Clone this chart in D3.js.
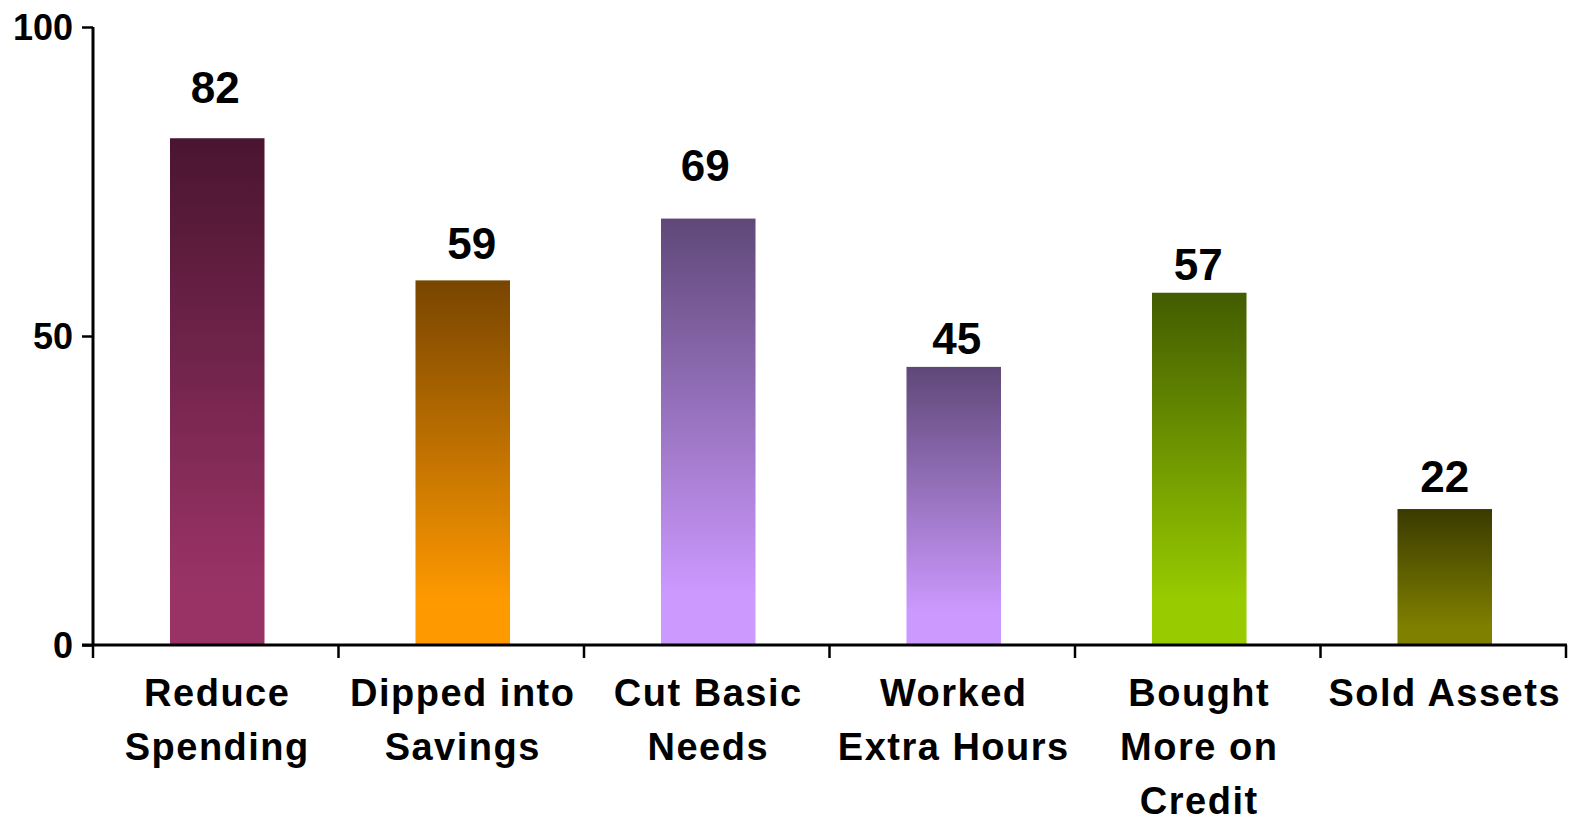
<!DOCTYPE html>
<html>
<head>
<meta charset="utf-8">
<script src="https://cdn.jsdelivr.net/npm/d3@7"></script>
<style>
  html, body { margin: 0; padding: 0; background: #fff; }
  svg { display: block; }
  text { font-family: "Liberation Sans", Arial, sans-serif; font-weight: bold; fill: #000; }
</style>
</head>
<body>
<svg id="chart" width="1569" height="817"></svg>
<script>
const categories = [
  ["Reduce", "Spending"],
  ["Dipped into", "Savings"],
  ["Cut Basic", "Needs"],
  ["Worked", "Extra Hours"],
  ["Bought", "More on", "Credit"],
  ["Sold Assets"]
];
const values = [82, 59, 69, 45, 57, 22];
const topColors = ["#4a1530", "#784500", "#5f4878", "#5f4878", "#425c00", "#3a3a00"];
const bottomColors = ["#993366", "#ff9900", "#cc99ff", "#cc99ff", "#99cc00", "#808000"];
const yTicks = [0, 50, 100];

// layout tweaks for the value labels (pixel offsets, as placed in the original)
const labelLift = [35, 21, 38, 13, 13, 17];
const labelShift = [-2, 9, -3, 3, -1, 0];

const svg = d3.select("#chart");
const x0 = 93, x1 = 1566, yTop = 27, yBottom = 645;

const keys = categories.map((c, i) => "c" + i);
const x = d3.scaleBand().domain(keys).range([x0, x1]).paddingInner(0.615).paddingOuter(0.3075);
const y = d3.scaleLinear().domain([0, 100]).range([yBottom, yTop]);

const defs = svg.append("defs");
keys.forEach((k, i) => {
  const g = defs.append("linearGradient").attr("id", "grad" + i)
    .attr("x1", 0).attr("y1", 0).attr("x2", 0).attr("y2", 1);
  g.append("stop").attr("offset", 0).attr("stop-color", topColors[i]);
  g.append("stop").attr("offset", 0.88).attr("stop-color", bottomColors[i]);
  g.append("stop").attr("offset", 1).attr("stop-color", bottomColors[i]);
});

// bars
svg.append("g").selectAll("rect").data(values).join("rect")
  .attr("x", (d, i) => x(keys[i]) + 1.5)
  .attr("y", d => y(d))
  .attr("width", x.bandwidth())
  .attr("height", d => yBottom - y(d))
  .attr("fill", (d, i) => `url(#grad${i})`);

// value labels
svg.append("g").selectAll("text").data(values).join("text")
  .attr("x", (d, i) => x(keys[i]) + 1.5 + x.bandwidth() / 2 + labelShift[i])
  .attr("y", (d, i) => y(d) - labelLift[i])
  .attr("text-anchor", "middle")
  .attr("font-size", 44)
  .text(d => d);

// y axis
const yAxis = d3.axisLeft(y).tickValues(yTicks).tickSize(11).tickPadding(9);
const gy = svg.append("g").attr("transform", `translate(${x0},0)`).call(yAxis);
gy.select(".domain").attr("stroke", "#000").attr("stroke-width", 3).attr("d", `M0,${yTop}V${yBottom}`);
gy.selectAll(".tick line").attr("stroke", "#000").attr("stroke-width", 2.5);
gy.selectAll(".tick text").attr("font-size", 36).attr("font-family", "Liberation Sans, Arial, sans-serif")
  .attr("font-weight", "bold").attr("fill", "#000").attr("dy", "0.36em");

// x axis line and boundary ticks
const boundaries = keys.map(k => x(k) - x.step() * x.paddingInner() / 2).concat([x1]);
const gx = svg.append("g");
gx.append("line").attr("x1", x0 - 11).attr("x2", x1 + 1).attr("y1", yBottom).attr("y2", yBottom)
  .attr("stroke", "#000").attr("stroke-width", 3);
gx.selectAll("line.tk").data(boundaries).join("line").attr("class", "tk")
  .attr("x1", d => d).attr("x2", d => d).attr("y1", yBottom).attr("y2", yBottom + 13)
  .attr("stroke", "#000").attr("stroke-width", 2.5);

// category labels
const lab = svg.append("g").selectAll("text").data(categories).join("text")
  .attr("x", (d, i) => x(keys[i]) + 1.5 + x.bandwidth() / 2)
  .attr("y", 706)
  .attr("text-anchor", "middle")
  .attr("font-size", 38)
  .attr("letter-spacing", 1.5);
lab.selectAll("tspan").data(d => d).join("tspan")
  .attr("x", function() { return d3.select(this.parentNode).attr("x"); })
  .attr("dy", (d, j) => j === 0 ? 0 : 54)
  .text(d => d);
</script>
</body>
</html>
